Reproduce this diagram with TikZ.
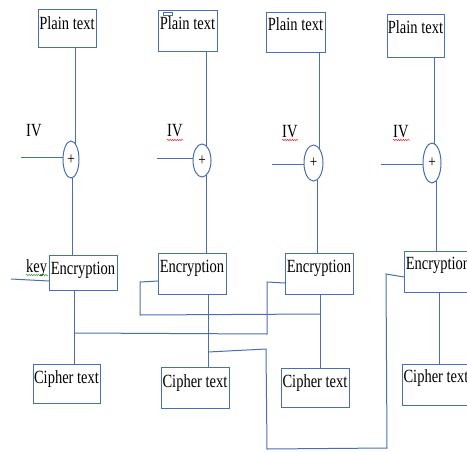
\documentclass[tikz,border=0pt]{standalone}
\usepackage{fontspec}
\setmainfont{Liberation Serif}[FakeStretch=0.78]
\usetikzlibrary{shapes.geometric,decorations.pathmorphing}
\definecolor{wire}{RGB}{72,112,176}
\definecolor{spellred}{RGB}{230,40,40}
\definecolor{spellgreen}{RGB}{60,150,60}
\tikzset{
  blk/.style={draw=wire, line width=1pt, rectangle, inner sep=0pt, outer sep=0pt,
    anchor=north west, font=\fontsize{18.6}{21}\selectfont},
  xorop/.style={draw=wire, line width=1pt, ellipse, inner sep=0pt, outer sep=0pt,
    font=\fontsize{17}{19}\selectfont},
  lbl/.style={inner sep=0pt, anchor=base west, font=\fontsize{18.6}{21}\selectfont},
  link/.style={draw=wire, line width=1pt},
  squig/.style={line width=0.5pt, decorate, decoration={snake, amplitude=0.7pt, segment length=2.4pt}}
}
\begin{document}
\begin{tikzpicture}[x=1pt, y=-1pt]
\useasboundingbox (0,0) rectangle (467,451);
\clip (0,0) rectangle (467,451);

% plaintext blocks
\node[blk, minimum width=58pt, text height=20pt, text depth=18pt] (p1) at (38,9)  {Plain text};
\node[blk, minimum width=59pt, text height=19pt, text depth=22pt] (p2) at (158,10) {Plain text};
\node[blk, minimum width=59pt, text height=18pt, text depth=22pt] (p3) at (266,12) {Plain text};
\node[blk, minimum width=57pt, text height=19pt, text depth=24pt] (p4) at (387,14) {Plain text};
\draw[wire, line width=0.7pt] (163,12) rectangle (172,15);

% XOR stages
\node[xorop, minimum width=16pt, minimum height=37pt] (e1) at (71,159.5) {+};
\node[xorop, minimum width=18pt, minimum height=33pt] (e2) at (202,160.5) {+};
\node[xorop, minimum width=19pt, minimum height=36pt] (e3) at (313.5,163) {+};
\node[xorop, minimum width=18pt, minimum height=40pt] (e4) at (432,163) {+};

% encryption blocks
\node[blk, minimum width=68pt, text height=19pt, text depth=16pt] (k1) at (49,255)  {Encryption};
\node[blk, minimum width=68pt, text height=19pt, text depth=22pt] (k2) at (158,253) {Encryption};
\node[blk, minimum width=68pt, text height=19pt, text depth=22pt] (k3) at (285,253) {Encryption};
\node[blk, minimum width=68pt, text height=18pt, text depth=23pt] (k4) at (404,251) {Encryption};

% ciphertext blocks
\node[blk, minimum width=67pt, text height=19pt, text depth=20pt] (c1) at (33,364)  {Cipher text};
\node[blk, minimum width=68pt, text height=20pt, text depth=21pt] (c2) at (161,367) {Cipher text};
\node[blk, minimum width=68pt, text height=19pt, text depth=20pt] (c3) at (281,368) {Cipher text};
\node[blk, minimum width=68pt, text height=18pt, text depth=23pt] (c4) at (402,364) {Cipher text};

% labels
\node[lbl] (iv1) at (26,136)  {IV};
\node[lbl] (iv2) at (167,136) {IV};
\node[lbl] (iv3) at (282,137) {IV};
\node[lbl] (iv4) at (393,137) {IV};
\node[lbl] (key) at (26,272)  {key};
\draw[spellred, squig] (167,140) -- (183,140);
\draw[spellred, squig] (282,140) -- (298,140);
\draw[spellred, squig] (393,140) -- (410,140);
\draw[spellgreen, squig] (26,275) -- (48,275);

% free ends of the IV and key inputs
\coordinate (ivin1) at (21,157);
\coordinate (ivin2) at (157,158);
\coordinate (ivin3) at (272,164);
\coordinate (ivin4) at (381,164);
\coordinate (keyin) at (11,279);

% plaintext into XOR
\draw[link] (e1.71) -- (e1.71 |- p1.south);
\draw[link] (e2.70) -- (e2.70 |- p2.south);
\draw[link] (e3.64) -- (e3.64 |- p3.south);
\draw[link] (e4.84) -- (e4.84 |- p4.south);

% IV into XOR
\draw[link] (ivin1) -- (e1.west |- ivin1);
\draw[link] (ivin2) -- (e2.west |- ivin2);
\draw[link] (ivin3) -- (e3.west |- ivin3);
\draw[link] (ivin4) -- (e4.west |- ivin4);

% XOR into encryption
\draw[link] (e1.-85) -- (e1.-85 |- k1.north);
\draw[link] (e2.-70) -- (e2.-70 |- k2.north);
\draw[link] (e3.-78) -- (e3.-78 |- k3.north);
\draw[link] (e4.-77) -- (e4.-77 |- k4.north);

% key input
\draw[link] (keyin) -- (k1.west |- 0,281);

% encryption into ciphertext
\draw[link] (k1.south -| 74,0)  -- (c1.north -| 74,0);
\draw[link] (k2.south -| 208,0) -- (c2.north -| 208,0);
\draw[link] (k3.south -| 320,0) -- (c3.north -| 320,0);
\draw[link] (k4.south -| 439,0) -- (c4.north -| 439,0);

% feedback routes between stages
\coordinate (j1) at (74,333);
\coordinate (j2) at (320,314);
\coordinate (j3) at (208,352);
\draw[link] (j1) -- (267,334) -- (267,282) -- (k3.west |- 0,283);
\draw[link] (k2.west |- 0,281) -- (140,282) -- (140,315) -- (j2);
\draw[link] (j3) -- (266,349) -- (267,449) -- (387,448) -- (386,274) -- (k4.west |- 0,277);
\end{tikzpicture}
\end{document}
